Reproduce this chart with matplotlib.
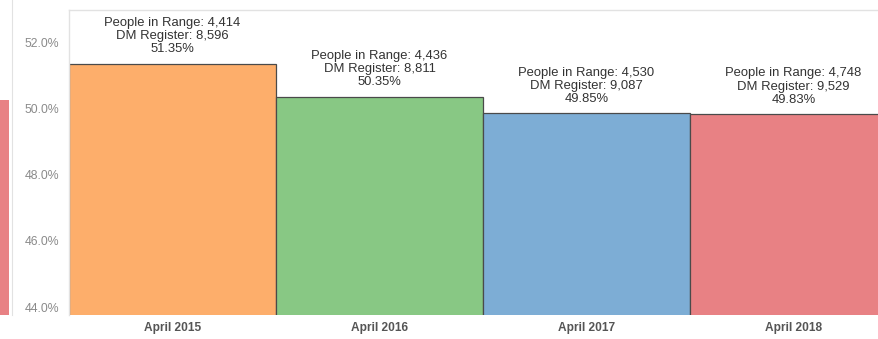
import matplotlib.pyplot as plt

# people in range / register counts per snapshot
periods = ['April 2015', 'April 2016', 'April 2017', 'April 2018']
in_range = [4414, 4436, 4530, 4748]
register = [8596, 8811, 9087, 9529]
pct = [51.35, 50.35, 49.85, 49.83]
bar_colors = ['#FDAE6B', '#88C884', '#7DADD5', '#E88184']

# last bar of the neighbouring panel on the left
prev_value = 50.25

y_ticks = [44, 46, 48, 50, 52]

plt.rcParams['font.family'] = ['Liberation Sans', 'DejaVu Sans']

fig = plt.figure(figsize=(8.79, 3.39), dpi=100)

bottom = 24 / 339
height = 305 / 339
ax = fig.add_axes([69 / 879, bottom, 828 / 879, height])

ymin, ymax = 43.76, 52.97
x = list(range(len(periods)))
ax.bar(x, pct, width=1.0, bottom=0, color=bar_colors,
       edgecolor='#4a4a4a', linewidth=0.9)
ax.set_xlim(-0.5, 3.5)
ax.set_ylim(ymin, ymax)

for i in x:
    txt = 'People in Range: {:,}\nDM Register: {:,}\n{:.2f}%'.format(
        in_range[i], register[i], pct[i])
    ax.annotate(txt, xy=(i, pct[i]), xytext=(0, 6), textcoords='offset points',
                ha='center', va='bottom', fontsize=9.4, color='#333333',
                linespacing=1.12)

ax.set_xticks(x)
ax.set_xticklabels(periods, fontsize=8.6, fontweight='bold', color='#555555')
ax.set_yticks(y_ticks)
ax.set_yticklabels(['{:.1f}%'.format(v) for v in y_ticks],
                   fontsize=8.8, color='#8a8a8a')
ax.tick_params(axis='both', length=0)
ax.tick_params(axis='y', pad=7)
ax.tick_params(axis='x', pad=5)

for side in ['right', 'bottom']:
    ax.spines[side].set_visible(False)
for side in ['top', 'left']:
    ax.spines[side].set_color('#e2e2e2')
    ax.spines[side].set_linewidth(1.0)

# neighbouring panel, mostly outside the figure
px_per_pct = height * 339 / (ymax - ymin)
top_left = ymax + 10 / px_per_pct
ax0 = fig.add_axes([-50 / 879, bottom, 62 / 879, 315 / 339])
ax0.bar([0], [prev_value], width=1.0, color='#E88184', edgecolor='none')
ax0.set_xlim(-0.5, 0.55)
ax0.set_ylim(ymin, top_left)
ax0.set_xticks([])
ax0.set_yticks([])
for side in ['left', 'top', 'bottom']:
    ax0.spines[side].set_visible(False)
ax0.spines['right'].set_color('#e2e2e2')

fig.savefig('out.png', dpi=100)
